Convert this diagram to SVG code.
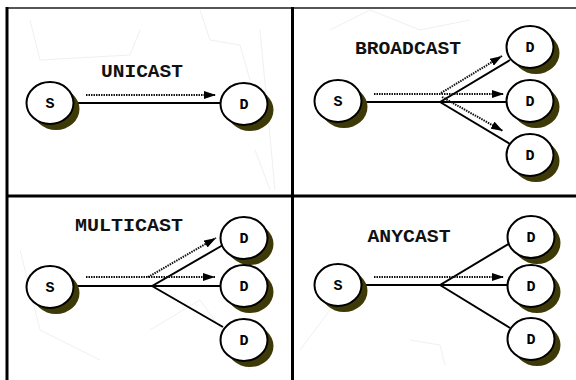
<svg xmlns="http://www.w3.org/2000/svg" width="576" height="380" viewBox="0 0 576 380">
<style>
.bg{fill:#ffffff}
.frame{stroke:#000;stroke-width:3;fill:none}
.top{stroke:#555;stroke-width:2;fill:none}
.shadow{fill:#3e3a08}
.node{fill:#fff;stroke:#000;stroke-width:2}
.lbl{font-family:"Liberation Mono","Courier New",monospace;font-weight:bold;font-size:15px;fill:#000;text-anchor:middle}
.title{font-family:"Liberation Mono","Courier New",monospace;font-weight:bold;font-size:18px;fill:#111;text-anchor:middle}
.solid{stroke:#000;stroke-width:2;fill:none}
.dot{stroke:#111;stroke-width:2;stroke-dasharray:1.5 1;fill:none}
.faint{stroke:#f0f0f0;stroke-width:1;fill:none}
</style>
<defs>
<marker id="ah" markerUnits="userSpaceOnUse" markerWidth="12" markerHeight="8" refX="12" refY="4" orient="auto">
<path d="M0,0 L12,4 L0,8 Z" fill="#000"/>
</marker>
</defs>
<rect class="bg" x="0" y="0" width="576" height="380"/>
<g id="background-texture">
<path class="faint" d="M30 20 L40 60 L130 55 L140 30 M200 10 L210 40 L240 45 L250 80 M255 150 L270 190 M260 30 L275 190 M330 30 L370 10 L420 30 L470 20 M20 250 L40 330 L100 360 M150 330 L200 300 L250 370 M410 340 L440 345 L445 365 M300 350 L330 310"/>
</g>
<g id="frame">
<line class="top" x1="6" y1="8" x2="576" y2="8"/>
<line class="frame" x1="7" y1="7" x2="7" y2="380"/>
<line class="frame" x1="292.5" y1="7" x2="292.5" y2="380"/>
<line class="frame" x1="7" y1="196" x2="576" y2="196"/>
</g>
<g id="titles">
<text class="title" x="142" y="77" textLength="82" lengthAdjust="spacingAndGlyphs">UNICAST</text>
<text class="title" x="408" y="54" textLength="106" lengthAdjust="spacingAndGlyphs">BROADCAST</text>
<text class="title" x="129" y="231" textLength="108" lengthAdjust="spacingAndGlyphs">MULTICAST</text>
<text class="title" x="409" y="242" textLength="83" lengthAdjust="spacingAndGlyphs">ANYCAST</text>
</g>
<g id="connectors">
<line class="solid" x1="74" y1="103" x2="221" y2="103"/>
<line class="dot" x1="86" y1="95" x2="216" y2="95" marker-end="url(#ah)"/>
<polyline class="solid" points="362,102 440,102 510,60"/>
<line class="solid" x1="440" y1="102" x2="507" y2="102"/>
<line class="solid" x1="440" y1="102" x2="510" y2="144"/>
<line class="dot" x1="374" y1="94" x2="504" y2="94" marker-end="url(#ah)"/>
<line class="dot" x1="441" y1="93" x2="502" y2="56" marker-end="url(#ah)"/>
<line class="dot" x1="442" y1="97" x2="503" y2="131" marker-end="url(#ah)"/>
<polyline class="solid" points="74,286 152,286 223,245"/>
<line class="solid" x1="152" y1="286" x2="221" y2="286"/>
<line class="solid" x1="152" y1="286" x2="223" y2="327"/>
<line class="dot" x1="86" y1="277" x2="215" y2="277" marker-end="url(#ah)"/>
<line class="dot" x1="148" y1="277" x2="216" y2="238" marker-end="url(#ah)"/>
<polyline class="solid" points="362,285 440,285 510,243"/>
<line class="solid" x1="440" y1="285" x2="509" y2="285"/>
<line class="solid" x1="440" y1="285" x2="510" y2="328"/>
<line class="dot" x1="374" y1="277" x2="504" y2="277" marker-end="url(#ah)"/>
</g>
<g id="uni-S"><ellipse class="shadow" cx="56" cy="109" rx="23.5" ry="21"/><ellipse class="node" cx="50" cy="103" rx="23.5" ry="21"/><text class="lbl" x="50" y="108">S</text></g>
<g id="uni-D"><ellipse class="shadow" cx="250" cy="110" rx="23.5" ry="21"/><ellipse class="node" cx="244" cy="104" rx="23.5" ry="21"/><text class="lbl" x="244" y="109">D</text></g>
<g id="bro-S"><ellipse class="shadow" cx="344" cy="107" rx="23.5" ry="21"/><ellipse class="node" cx="338" cy="101" rx="23.5" ry="21"/><text class="lbl" x="338" y="106">S</text></g>
<g id="bro-D1"><ellipse class="shadow" cx="536" cy="53" rx="23.5" ry="21"/><ellipse class="node" cx="530" cy="47" rx="23.5" ry="21"/><text class="lbl" x="530" y="52">D</text></g>
<g id="bro-D2"><ellipse class="shadow" cx="536" cy="107" rx="23.5" ry="21"/><ellipse class="node" cx="530" cy="101" rx="23.5" ry="21"/><text class="lbl" x="530" y="106">D</text></g>
<g id="bro-D3"><ellipse class="shadow" cx="536" cy="161" rx="23.5" ry="21"/><ellipse class="node" cx="530" cy="155" rx="23.5" ry="21"/><text class="lbl" x="530" y="160">D</text></g>
<g id="mul-S"><ellipse class="shadow" cx="56" cy="293" rx="23.5" ry="21"/><ellipse class="node" cx="50" cy="287" rx="23.5" ry="21"/><text class="lbl" x="50" y="292">S</text></g>
<g id="mul-D1"><ellipse class="shadow" cx="250" cy="244" rx="23.5" ry="21"/><ellipse class="node" cx="244" cy="238" rx="23.5" ry="21"/><text class="lbl" x="244" y="243">D</text></g>
<g id="mul-D2"><ellipse class="shadow" cx="250" cy="292" rx="23.5" ry="21"/><ellipse class="node" cx="244" cy="286" rx="23.5" ry="21"/><text class="lbl" x="244" y="291">D</text></g>
<g id="mul-D3"><ellipse class="shadow" cx="250" cy="346" rx="23.5" ry="21"/><ellipse class="node" cx="244" cy="340" rx="23.5" ry="21"/><text class="lbl" x="244" y="345">D</text></g>
<g id="any-S"><ellipse class="shadow" cx="344" cy="291" rx="23.5" ry="21"/><ellipse class="node" cx="338" cy="285" rx="23.5" ry="21"/><text class="lbl" x="338" y="290">S</text></g>
<g id="any-D1"><ellipse class="shadow" cx="537" cy="243" rx="23.5" ry="21"/><ellipse class="node" cx="531" cy="237" rx="23.5" ry="21"/><text class="lbl" x="531" y="242">D</text></g>
<g id="any-D2"><ellipse class="shadow" cx="537" cy="292" rx="23.5" ry="21"/><ellipse class="node" cx="531" cy="286" rx="23.5" ry="21"/><text class="lbl" x="531" y="291">D</text></g>
<g id="any-D3"><ellipse class="shadow" cx="537" cy="345" rx="23.5" ry="21"/><ellipse class="node" cx="531" cy="339" rx="23.5" ry="21"/><text class="lbl" x="531" y="344">D</text></g>
</svg>
